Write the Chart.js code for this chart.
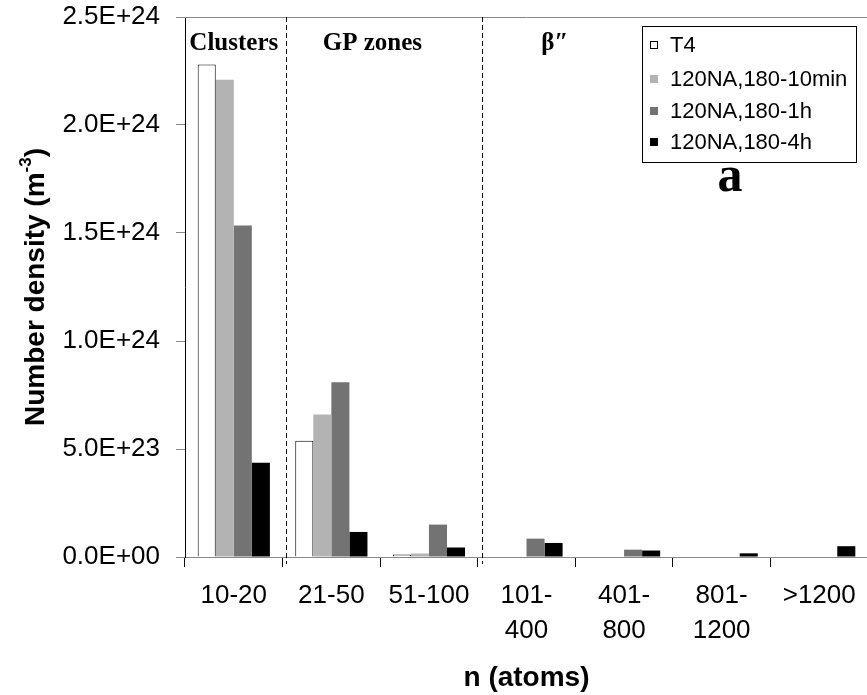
<!DOCTYPE html>
<html>
<head>
<meta charset="utf-8">
<script src="https://cdn.jsdelivr.net/npm/chart.js@4.4.1/dist/chart.umd.min.js"></script>
<style>
  html, body { margin: 0; padding: 0; background: #fff; overflow: hidden; }
  canvas { display: block; }
</style>
</head>
<body>
<canvas id="chart" width="869" height="695"></canvas>
<script>
// Cluster size classes (number of atoms)
const categories = ['10-20', '21-50', '51-100', ['101-', '400'], ['401-', '800'], ['801-', '1200'], '>1200'];
const seriesNames = ['T4', '120NA,180-10min', '120NA,180-1h', '120NA,180-4h'];

// Number density, m^-3
const t4Values      = [2.28e24, 5.38e23, 1.1e22, 0, 0, 0, 0];
const na10minValues = [2.21e24, 6.60e23, 1.6e22, 0, 0, 0, 0];
const na1hValues    = [1.535e24, 8.09e23, 1.50e23, 8.5e22, 3.4e22, 0, 0];
const na4hValues    = [4.36e23, 1.16e23, 4.4e22, 6.5e22, 3.0e22, 1.7e22, 5.0e22];

const yTickLabels = ['0.0E+00', '5.0E+23', '1.0E+24', '1.5E+24', '2.0E+24', '2.5E+24'];
const regionNames = ['Clusters', 'GP zones', 'β″'];

const SANS = '"Liberation Sans", Arial, sans-serif';
const SERIF = '"Liberation Serif", "Times New Roman", serif';

const fills = ['#ffffff', '#b3b3b3', '#737373', '#000000'];
const seriesValues = [t4Values, na10minValues, na1hValues, na4hValues];

const datasets = seriesNames.map((name, i) => ({
  label: name,
  data: seriesValues[i],
  backgroundColor: fills[i],
  borderColor: '#000000',
  borderWidth: i === 0 ? (ctx => (ctx.raw > 0 ? 1 : 0)) : 0,
  borderSkipped: 'start'
}));

// Frame, phase separators, phase names, legend box and axis titles
const decor = {
  id: 'decor',
  afterDraw(chart) {
    const { ctx, chartArea: a, scales: { x } } = chart;
    ctx.save();

    // top frame line
    ctx.strokeStyle = '#888888';
    ctx.lineWidth = 1;
    ctx.beginPath();
    ctx.moveTo(a.left, a.top + 0.5);
    ctx.lineTo(a.right, a.top + 0.5);
    ctx.stroke();

    // dashed separators between precipitate regimes
    ctx.strokeStyle = '#000000';
    ctx.setLineDash([5, 3]);
    [0.54, 2.545].forEach(v => {
      const px = Math.round(x.getPixelForValue(v)) + 0.5;
      ctx.beginPath();
      ctx.moveTo(px, a.top);
      ctx.lineTo(px, a.bottom + 7);
      ctx.stroke();
    });
    ctx.setLineDash([]);

    // regime names
    ctx.fillStyle = '#000000';
    ctx.font = 'bold 25px ' + SERIF;
    ctx.textAlign = 'center';
    ctx.textBaseline = 'middle';
    [0, 1.42, 3.29].forEach((v, i) => {
      ctx.fillText(regionNames[i], x.getPixelForValue(v), a.top + 27);
    });

    // legend
    const lx = 642, ly = 26, lw = 214, lh = 136;
    ctx.strokeStyle = '#000000';
    ctx.strokeRect(lx + 0.5, ly + 0.5, lw, lh);
    ctx.font = '22px ' + SANS;
    ctx.textAlign = 'left';
    ctx.textBaseline = 'middle';
    const rowY = [45, 79, 111, 142];
    chart.data.datasets.forEach((ds, i) => {
      const y = rowY[i];
      ctx.fillStyle = ds.backgroundColor;
      ctx.fillRect(lx + 8, y - 4, 8, 8);
      if (i === 0) {
        ctx.strokeStyle = '#000000';
        ctx.strokeRect(lx + 8.5, y - 3.5, 7, 7);
      }
      ctx.fillStyle = '#000000';
      ctx.fillText(ds.label, lx + 28, y + 1);
    });

    // panel letter
    ctx.font = 'bold 50px ' + SERIF;
    ctx.textAlign = 'center';
    ctx.textBaseline = 'alphabetic';
    ctx.fillText('a', 730, 191);

    // x title
    ctx.font = 'bold 28px ' + SANS;
    ctx.textBaseline = 'middle';
    ctx.fillText('n (atoms)', (a.left + a.right) / 2, 678);

    // y title with superscript
    ctx.translate(34, (a.top + a.bottom) / 2);
    ctx.rotate(-Math.PI / 2);
    const main = 'Number density (m', sup = '-3', tail = ')';
    const fMain = 'bold 28px ' + SANS, fSup = 'bold 17px ' + SANS;
    ctx.font = fMain;
    const wMain = ctx.measureText(main).width, wTail = ctx.measureText(tail).width;
    ctx.font = fSup;
    const wSup = ctx.measureText(sup).width;
    let sx = -(wMain + wSup + wTail) / 2;
    ctx.textAlign = 'left';
    ctx.textBaseline = 'alphabetic';
    ctx.font = fMain;
    ctx.fillText(main, sx, 10);
    sx += wMain;
    ctx.font = fSup;
    ctx.fillText(sup, sx, -3);
    sx += wSup;
    ctx.font = fMain;
    ctx.fillText(tail, sx, 10);

    ctx.restore();
  }
};

new Chart(document.getElementById('chart'), {
  type: 'bar',
  data: { labels: categories, datasets },
  options: {
    responsive: false,
    animation: false,
    devicePixelRatio: 1,
    layout: { padding: { top: 17, right: 1, left: 0, bottom: 0 } },
    datasets: { bar: { categoryPercentage: 0.74, barPercentage: 1.0 } },
    plugins: { legend: { display: false }, tooltip: { enabled: false } },
    scales: {
      x: {
        afterFit(s) { s.height = 138; s.paddingLeft = 0; s.paddingRight = 0; },
        grid: { display: true, drawOnChartArea: false, drawTicks: true, tickLength: 10, color: '#000000', offset: true },
        border: { display: true, color: '#888888', width: 1 },
        ticks: {
          color: '#000000',
          padding: 11,
          maxRotation: 0,
          autoSkip: false,
          font: { family: SANS, size: 26, lineHeight: 1.35 }
        }
      },
      y: {
        min: 0,
        max: 2.5e24,
        afterFit(s) { s.width = 185; s.paddingTop = 0; s.paddingBottom = 0; },
        grid: { display: true, drawOnChartArea: false, drawTicks: true, tickLength: 9, color: '#888888' },
        border: { display: true, color: '#000000', width: 1 },
        ticks: {
          stepSize: 5e23,
          color: '#000000',
          padding: 16,
          font: { family: SANS, size: 26 },
          callback: (v, i) => yTickLabels[i]
        }
      }
    }
  },
  plugins: [decor]
});
</script>
</body>
</html>
